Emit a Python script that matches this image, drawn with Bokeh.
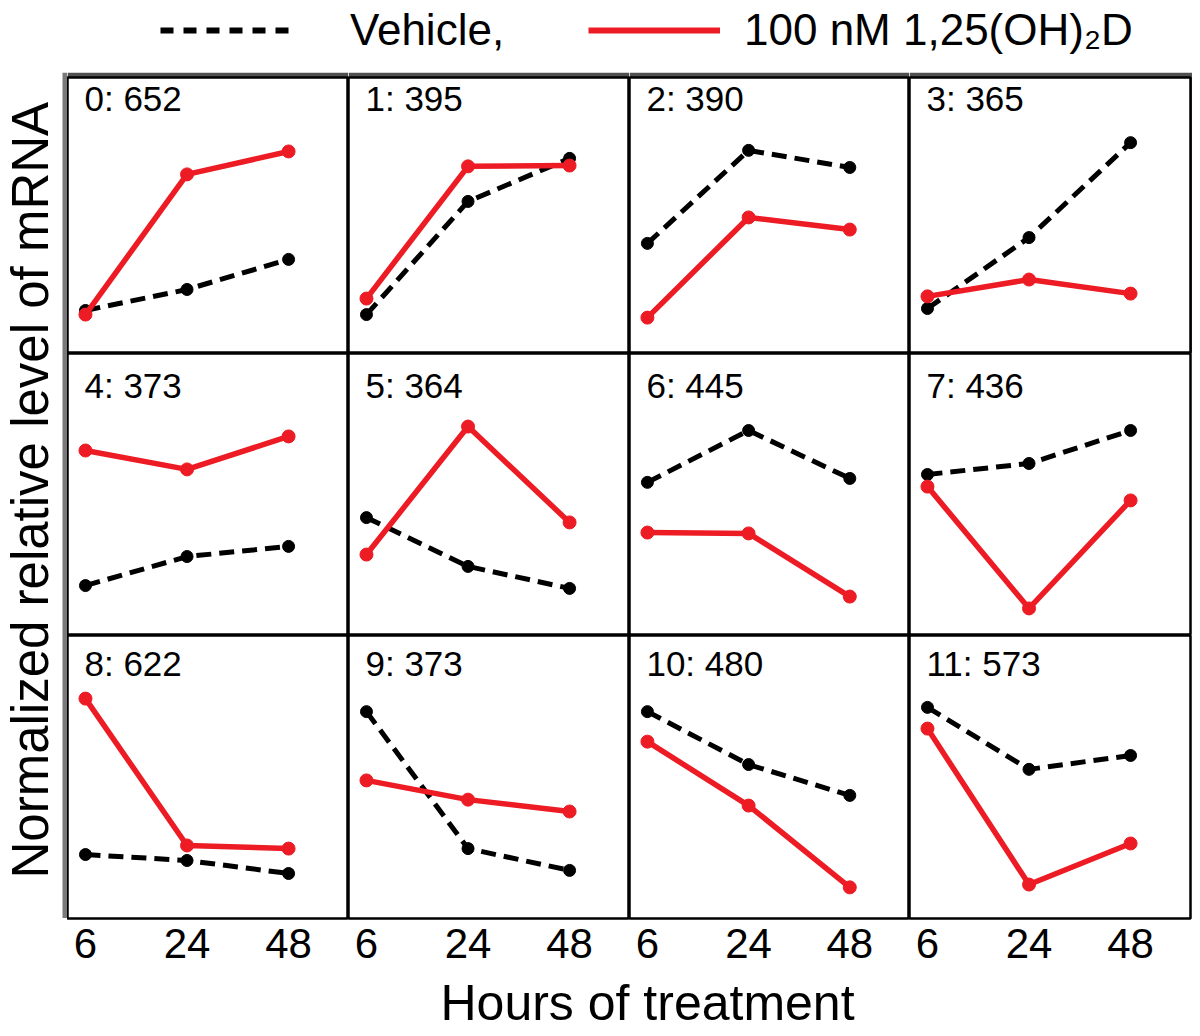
from math import pi
from bokeh.plotting import figure
from bokeh.layouts import gridplot, column, row
from bokeh.models import Range1d, FixedTicker, Label, Legend, LegendItem, BoxAnnotation
from bokeh.embed import file_html
from bokeh.resources import INLINE

# ---------------- data ----------------
hours = ["6", "24", "48"]
cluster_labels = ["0: 652", "1: 395", "2: 390", "3: 365",
                  "4: 373", "5: 364", "6: 445", "7: 436",
                  "8: 622", "9: 373", "10: 480", "11: 573"]
vehicle = [
    [15.6, 23.2, 34.1],
    [14.1, 55.1, 70.7],
    [39.9, 73.6, 67.4],
    [16.3, 42.0, 76.4],
    [17.7, 28.0, 31.6],
    [41.8, 24.5, 16.7],
    [54.3, 72.7, 55.7],
    [57.1, 61.0, 72.7],
    [22.6, 20.5, 15.9],
    [73.1, 24.7, 17.0],
    [73.1, 54.4, 43.5],
    [74.6, 52.7, 57.6],
]
treated = [
    [14.1, 64.9, 73.2],
    [19.9, 67.8, 68.1],
    [13.0, 49.3, 44.9],
    [20.7, 26.8, 21.7],
    [65.6, 58.9, 70.6],
    [28.7, 74.1, 40.1],
    [36.5, 36.2, 13.8],
    [52.8, 9.6, 47.9],
    [77.7, 25.8, 24.7],
    [48.8, 42.0, 37.8],
    [62.5, 39.9, 11.0],
    [67.1, 12.0, 26.5],
]
legend_labels = ["Vehicle,", "100 nM 1,25(OH)\u2082D"]
y_title = "Normalized relative level of mRNA"
x_title = "Hours of treatment"

# ---------------- style ----------------
FONT = "Liberation Sans"
RED = "#ED1C24"
COL_W = [281, 281, 280, 281]
ROW_H = [276, 282, 283]
TITLE_DY = [1, 12, 8]
NCOLS = 4
AXIS_H = 56

xpos = list(range(len(hours)))

figs = []
for i in range(len(cluster_labels)):
    r, c = divmod(i, NCOLS)
    bottom = r == len(ROW_H) - 1
    p = figure(frame_width=COL_W[c], frame_height=ROW_H[r],
               x_range=Range1d(-0.177, 2.59), y_range=Range1d(0, 100),
               x_axis_location="below" if bottom else None, y_axis_location=None,
               output_backend="svg", toolbar_location=None, min_border=0,
               outline_line_color="black", outline_line_width=2.5,
               background_fill_color="white", border_fill_color="white")
    if r == 0:
        p.min_border_top = 5
        p.border_fill_color = "#505050"
    if c == NCOLS - 1:
        p.min_border_right = 2
    if bottom:
        p.min_border_bottom = AXIS_H
    p.grid.visible = False

    p.line(xpos, vehicle[i], line_color="black", line_width=5, line_dash="15 8")
    p.scatter(xpos, vehicle[i], size=12, color="black")
    p.line(xpos, treated[i], line_color=RED, line_width=5.5)
    p.scatter(xpos, treated[i], size=13, color=RED)

    p.add_layout(Label(x=0, y=100, text=cluster_labels[i], text_font=FONT,
                       text_font_size="35px", text_baseline="top", text_color="black",
                       x_offset=-1, y_offset=-TITLE_DY[r]))
    if bottom:
        ax = p.xaxis[0]
        ax.ticker = FixedTicker(ticks=xpos)
        ax.major_label_overrides = {k: h for k, h in zip(xpos, hours)}
        ax.major_label_text_font = FONT
        ax.major_label_text_font_size = "42px"
        ax.major_label_text_color = "black"
        ax.major_tick_line_color = None
        ax.minor_tick_line_color = None
        ax.axis_line_color = None
        ax.major_label_standoff = 4
    figs.append(p)

grid = gridplot(figs, ncols=NCOLS, toolbar_location=None)

# legend figure
leg_fig = figure(width=1190, height=72, output_backend="svg", toolbar_location=None,
                 min_border=0, x_axis_location=None, y_axis_location=None,
                 outline_line_color=None, x_range=Range1d(0, 1), y_range=Range1d(0, 1))
leg_fig.grid.visible = False
# invisible (off-range) single-point sources so the legend glyphs are drawn
r_veh = leg_fig.line(x=[0.5], y=[5], line_color="black", line_width=6, line_dash="13 10")
r_trt = leg_fig.line(x=[0.5], y=[5], line_color=RED, line_width=6)
for lab, rend, x0, so in [(legend_labels[0], r_veh, 160, 58), (legend_labels[1], r_trt, 588, 24)]:
    leg = Legend(items=[LegendItem(label=lab, renderers=[rend])], location=(x0, 17),
                 orientation="horizontal", glyph_width=132, glyph_height=20,
                 label_standoff=so, padding=0, margin=0, border_line_color=None,
                 background_fill_alpha=0, label_text_font=FONT,
                 label_text_font_size="44px", label_text_color="black")
    leg_fig.add_layout(leg)

# y-title figure with grey left band
yl = figure(width=67, height=846, output_backend="svg", toolbar_location=None,
            min_border=0, x_axis_location=None, y_axis_location=None,
            outline_line_color=None, x_range=Range1d(0, 1), y_range=Range1d(0, 1))
yl.grid.visible = False
yl.add_layout(BoxAnnotation(left=62, right=67, left_units="screen", right_units="screen",
                            fill_color="#7a7a7a", fill_alpha=1, line_color=None))
yl.add_layout(Label(x=30, y=40, x_units="screen", y_units="screen", angle=pi / 2,
                    text=y_title, text_font=FONT, text_font_size="51px", text_color="black",
                    text_baseline="alphabetic", text_align="left"))

# x-title figure
xl = figure(width=1190, height=58, output_backend="svg", toolbar_location=None,
            min_border=0, x_axis_location=None, y_axis_location=None,
            outline_line_color=None, x_range=Range1d(0, 1), y_range=Range1d(0, 1))
xl.grid.visible = False
xl.add_layout(Label(x=440, y=30, x_units="screen", y_units="screen",
                    text=x_title, text_font=FONT, text_font_size="50px", text_color="black",
                    text_baseline="middle", text_align="left"))

layout = column(leg_fig, row(yl, grid), xl)
open("out.html", "w").write(file_html(layout, INLINE))
